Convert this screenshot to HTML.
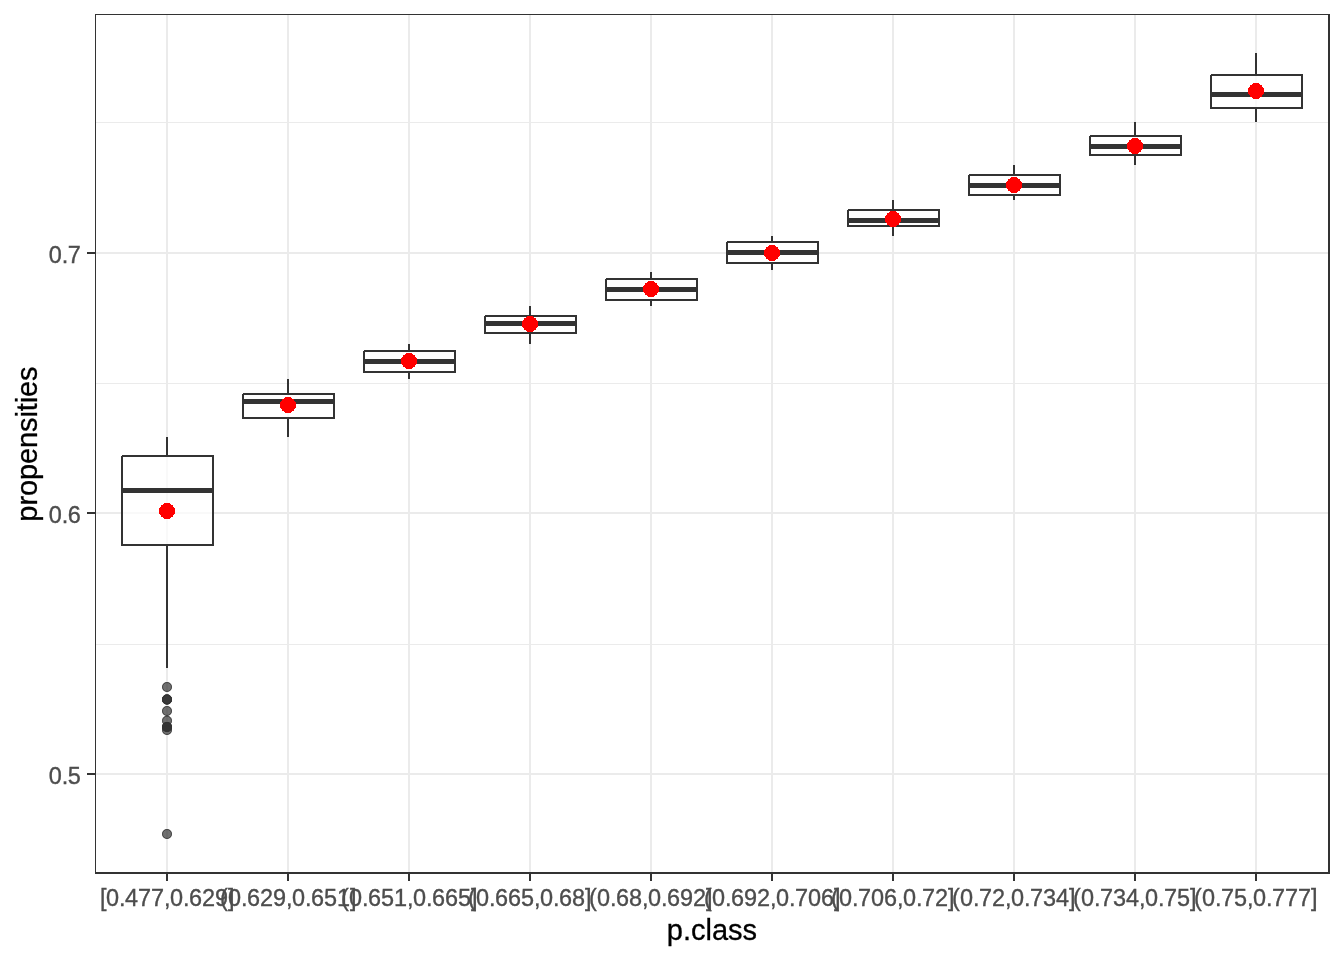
<!DOCTYPE html>
<html lang="en"><head><meta charset="utf-8"><title>propensities by p.class</title>
<style>
html,body{margin:0;padding:0;background:#fff;}
body{width:1344px;height:960px;overflow:hidden;position:relative;}
svg{position:absolute;left:0;top:0;display:block;}
text{font-family:"Liberation Sans",sans-serif;}
.tick{font-size:23.47px;fill:#4d4d4d;stroke:#4d4d4d;stroke-width:0.35px;}
.title{font-size:29px;fill:#000;stroke:#000;stroke-width:0.3px;}
</style></head><body>
<svg width="1344" height="960" viewBox="0 0 1344 960">
<rect x="0" y="0" width="1344" height="960" fill="#fff"/>

<g shape-rendering="crispEdges" fill="#ebebeb">
<rect x="96" y="122" width="1233" height="1"/>
<rect x="96" y="383" width="1233" height="1"/>
<rect x="96" y="644" width="1233" height="1"/>
<rect x="96" y="252" width="1233" height="2"/>
<rect x="96" y="512" width="1233" height="2"/>
<rect x="96" y="773" width="1233" height="2"/>
<rect x="166" y="15" width="2" height="858"/>
<rect x="287" y="15" width="2" height="858"/>
<rect x="408" y="15" width="2" height="858"/>
<rect x="529" y="15" width="2" height="858"/>
<rect x="650" y="15" width="2" height="858"/>
<rect x="771" y="15" width="2" height="858"/>
<rect x="892" y="15" width="2" height="858"/>
<rect x="1013" y="15" width="2" height="858"/>
<rect x="1134" y="15" width="2" height="858"/>
<rect x="1255" y="15" width="2" height="858"/>
</g>
<g shape-rendering="crispEdges">
<rect x="166" y="437" width="2" height="19" fill="#333"/>
<rect x="166" y="545" width="2" height="123" fill="#333"/>
<rect x="122" y="456" width="91" height="89" fill="#fff" fill-opacity="0.7" stroke="#333" stroke-width="2"/>
<rect x="122" y="488.0" width="91" height="5" fill="#333"/>
<rect x="121" y="455" width="1" height="1" fill="#fff"/>
<rect x="287" y="379" width="2" height="15" fill="#333"/>
<rect x="287" y="418" width="2" height="19" fill="#333"/>
<rect x="243" y="394" width="91" height="24" fill="#fff" fill-opacity="0.7" stroke="#333" stroke-width="2"/>
<rect x="243" y="399.0" width="91" height="5" fill="#333"/>
<rect x="242" y="393" width="1" height="1" fill="#fff"/>
<rect x="408" y="344" width="2" height="7" fill="#333"/>
<rect x="408" y="372" width="2" height="7" fill="#333"/>
<rect x="364" y="351" width="91" height="21" fill="#fff" fill-opacity="0.7" stroke="#333" stroke-width="2"/>
<rect x="364" y="359.0" width="91" height="5" fill="#333"/>
<rect x="363" y="350" width="1" height="1" fill="#fff"/>
<rect x="529" y="306" width="2" height="10" fill="#333"/>
<rect x="529" y="333" width="2" height="11" fill="#333"/>
<rect x="485" y="316" width="91" height="17" fill="#fff" fill-opacity="0.7" stroke="#333" stroke-width="2"/>
<rect x="485" y="321.0" width="91" height="5" fill="#333"/>
<rect x="484" y="315" width="1" height="1" fill="#fff"/>
<rect x="650" y="272" width="2" height="7" fill="#333"/>
<rect x="650" y="300" width="2" height="6" fill="#333"/>
<rect x="606" y="279" width="91" height="21" fill="#fff" fill-opacity="0.7" stroke="#333" stroke-width="2"/>
<rect x="606" y="287.0" width="91" height="5" fill="#333"/>
<rect x="605" y="278" width="1" height="1" fill="#fff"/>
<rect x="771" y="236" width="2" height="6" fill="#333"/>
<rect x="771" y="263" width="2" height="7" fill="#333"/>
<rect x="727" y="242" width="91" height="21" fill="#fff" fill-opacity="0.7" stroke="#333" stroke-width="2"/>
<rect x="727" y="250.0" width="91" height="5" fill="#333"/>
<rect x="726" y="241" width="1" height="1" fill="#fff"/>
<rect x="892" y="200" width="2" height="10" fill="#333"/>
<rect x="892" y="226" width="2" height="10" fill="#333"/>
<rect x="848" y="210" width="91" height="16" fill="#fff" fill-opacity="0.7" stroke="#333" stroke-width="2"/>
<rect x="848" y="218.0" width="91" height="5" fill="#333"/>
<rect x="847" y="209" width="1" height="1" fill="#fff"/>
<rect x="1013" y="165" width="2" height="10" fill="#333"/>
<rect x="1013" y="195" width="2" height="5" fill="#333"/>
<rect x="969" y="175" width="91" height="20" fill="#fff" fill-opacity="0.7" stroke="#333" stroke-width="2"/>
<rect x="969" y="183.0" width="91" height="5" fill="#333"/>
<rect x="968" y="174" width="1" height="1" fill="#fff"/>
<rect x="1134" y="122" width="2" height="14" fill="#333"/>
<rect x="1134" y="155" width="2" height="10" fill="#333"/>
<rect x="1090" y="136" width="91" height="19" fill="#fff" fill-opacity="0.7" stroke="#333" stroke-width="2"/>
<rect x="1090" y="144.0" width="91" height="5" fill="#333"/>
<rect x="1089" y="135" width="1" height="1" fill="#fff"/>
<rect x="1255" y="53" width="2" height="22" fill="#333"/>
<rect x="1255" y="108" width="2" height="14" fill="#333"/>
<rect x="1211" y="75" width="91" height="33" fill="#fff" fill-opacity="0.7" stroke="#333" stroke-width="2"/>
<rect x="1211" y="92.0" width="91" height="5" fill="#333"/>
<rect x="1210" y="74" width="1" height="1" fill="#fff"/>
</g>
<g fill="#333" fill-opacity="0.7" stroke="none">
<circle cx="167" cy="687" r="5"/>
<circle cx="167" cy="687" r="4.5" fill="none" stroke="#333" stroke-opacity="0.7" stroke-width="1"/>
<circle cx="167" cy="699.5" r="5"/>
<circle cx="167" cy="699.5" r="4.5" fill="none" stroke="#333" stroke-opacity="0.7" stroke-width="1"/>
<circle cx="167" cy="699.5" r="5"/>
<circle cx="167" cy="699.5" r="4.5" fill="none" stroke="#333" stroke-opacity="0.7" stroke-width="1"/>
<circle cx="167" cy="699.5" r="5"/>
<circle cx="167" cy="699.5" r="4.5" fill="none" stroke="#333" stroke-opacity="0.7" stroke-width="1"/>
<circle cx="167" cy="711" r="5"/>
<circle cx="167" cy="711" r="4.5" fill="none" stroke="#333" stroke-opacity="0.7" stroke-width="1"/>
<circle cx="167" cy="720.7" r="5"/>
<circle cx="167" cy="720.7" r="4.5" fill="none" stroke="#333" stroke-opacity="0.7" stroke-width="1"/>
<circle cx="167" cy="727" r="5"/>
<circle cx="167" cy="727" r="4.5" fill="none" stroke="#333" stroke-opacity="0.7" stroke-width="1"/>
<circle cx="167" cy="727" r="5"/>
<circle cx="167" cy="727" r="4.5" fill="none" stroke="#333" stroke-opacity="0.7" stroke-width="1"/>
<circle cx="167" cy="727" r="5"/>
<circle cx="167" cy="727" r="4.5" fill="none" stroke="#333" stroke-opacity="0.7" stroke-width="1"/>
<circle cx="167" cy="730" r="5"/>
<circle cx="167" cy="730" r="4.5" fill="none" stroke="#333" stroke-opacity="0.7" stroke-width="1"/>
<circle cx="167" cy="834" r="5"/>
<circle cx="167" cy="834" r="4.5" fill="none" stroke="#333" stroke-opacity="0.7" stroke-width="1"/>
</g>
<g fill="#f00" shape-rendering="crispEdges">
<path d="M164 503h6v1h-6zM163 504h8v1h-8zM161 505h12v2h-12zM160 507h14v1h-14zM159 508h16v6h-16zM160 514h14v1h-14zM161 515h12v2h-12zM163 517h8v1h-8zM164 518h6v1h-6z"/>
<path d="M285 397h6v1h-6zM284 398h8v1h-8zM282 399h12v2h-12zM281 401h14v1h-14zM280 402h16v6h-16zM281 408h14v1h-14zM282 409h12v2h-12zM284 411h8v1h-8zM285 412h6v1h-6z"/>
<path d="M406 353h6v1h-6zM405 354h8v1h-8zM403 355h12v2h-12zM402 357h14v1h-14zM401 358h16v6h-16zM402 364h14v1h-14zM403 365h12v2h-12zM405 367h8v1h-8zM406 368h6v1h-6z"/>
<path d="M527 316h6v1h-6zM526 317h8v1h-8zM524 318h12v2h-12zM523 320h14v1h-14zM522 321h16v6h-16zM523 327h14v1h-14zM524 328h12v2h-12zM526 330h8v1h-8zM527 331h6v1h-6z"/>
<path d="M648 281h6v1h-6zM647 282h8v1h-8zM645 283h12v2h-12zM644 285h14v1h-14zM643 286h16v6h-16zM644 292h14v1h-14zM645 293h12v2h-12zM647 295h8v1h-8zM648 296h6v1h-6z"/>
<path d="M769 245h6v1h-6zM768 246h8v1h-8zM766 247h12v2h-12zM765 249h14v1h-14zM764 250h16v6h-16zM765 256h14v1h-14zM766 257h12v2h-12zM768 259h8v1h-8zM769 260h6v1h-6z"/>
<path d="M890 211h6v1h-6zM889 212h8v1h-8zM887 213h12v2h-12zM886 215h14v1h-14zM885 216h16v6h-16zM886 222h14v1h-14zM887 223h12v2h-12zM889 225h8v1h-8zM890 226h6v1h-6z"/>
<path d="M1011 177h6v1h-6zM1010 178h8v1h-8zM1008 179h12v2h-12zM1007 181h14v1h-14zM1006 182h16v6h-16zM1007 188h14v1h-14zM1008 189h12v2h-12zM1010 191h8v1h-8zM1011 192h6v1h-6z"/>
<path d="M1132 138h6v1h-6zM1131 139h8v1h-8zM1129 140h12v2h-12zM1128 142h14v1h-14zM1127 143h16v6h-16zM1128 149h14v1h-14zM1129 150h12v2h-12zM1131 152h8v1h-8zM1132 153h6v1h-6z"/>
<path d="M1253 83h6v1h-6zM1252 84h8v1h-8zM1250 85h12v2h-12zM1249 87h14v1h-14zM1248 88h16v6h-16zM1249 94h14v1h-14zM1250 95h12v2h-12zM1252 97h8v1h-8zM1253 98h6v1h-6z"/>
</g>
<g shape-rendering="crispEdges" fill="#333">
<rect x="95" y="14" width="1235" height="1"/>
<rect x="95" y="14" width="1" height="860"/>
<rect x="1328" y="14" width="2" height="860"/>
<rect x="95" y="872" width="1235" height="2"/>
<rect x="87" y="252" width="8" height="2"/>
<rect x="87" y="512" width="8" height="2"/>
<rect x="87" y="773" width="8" height="2"/>
<rect x="166" y="874" width="2" height="7"/>
<rect x="287" y="874" width="2" height="7"/>
<rect x="408" y="874" width="2" height="7"/>
<rect x="529" y="874" width="2" height="7"/>
<rect x="650" y="874" width="2" height="7"/>
<rect x="771" y="874" width="2" height="7"/>
<rect x="892" y="874" width="2" height="7"/>
<rect x="1013" y="874" width="2" height="7"/>
<rect x="1134" y="874" width="2" height="7"/>
<rect x="1255" y="874" width="2" height="7"/>
</g>
<g class="tick">
<text x="48.7 61.7 67.7" y="263">0.7</text>
<text x="48.7 61.7 67.7" y="523">0.6</text>
<text x="48.7 61.7 67.7" y="784">0.5</text>
</g>
<g class="tick">
<text x="100 106 119 125 138 151 164 170 183 189 202 215 228" y="906">[0.477,0.629]</text>
<text x="220 228 241 247 260 273 286 292 305 311 324 337 350" y="906">(0.629,0.651]</text>
<text x="341 349 362 368 381 394 407 413 426 432 445 458 471" y="906">(0.651,0.665]</text>
<text x="468 476 489 495 508 521 534 540 553 559 572 585" y="906">(0.665,0.68]</text>
<text x="589 597 610 616 629 642 648 661 667 680 693 706" y="906">(0.68,0.692]</text>
<text x="704 712 725 731 744 757 770 776 789 795 808 821 834" y="906">(0.692,0.706]</text>
<text x="831 839 852 858 871 884 897 903 916 922 935 948" y="906">(0.706,0.72]</text>
<text x="952 960 973 979 992 1005 1011 1024 1030 1043 1056 1069" y="906">(0.72,0.734]</text>
<text x="1073 1081 1094 1100 1113 1126 1139 1145 1158 1164 1177 1190" y="906">(0.734,0.75]</text>
<text x="1194 1202 1215 1221 1234 1247 1253 1266 1272 1285 1298 1311" y="906">(0.75,0.777]</text>
</g>
<text class="title" text-anchor="middle" x="712" y="940">p.class</text>
<text class="title" text-anchor="middle" letter-spacing="-0.11" transform="translate(37.2,444.1) rotate(-90)">propensities</text>
</svg></body></html>
